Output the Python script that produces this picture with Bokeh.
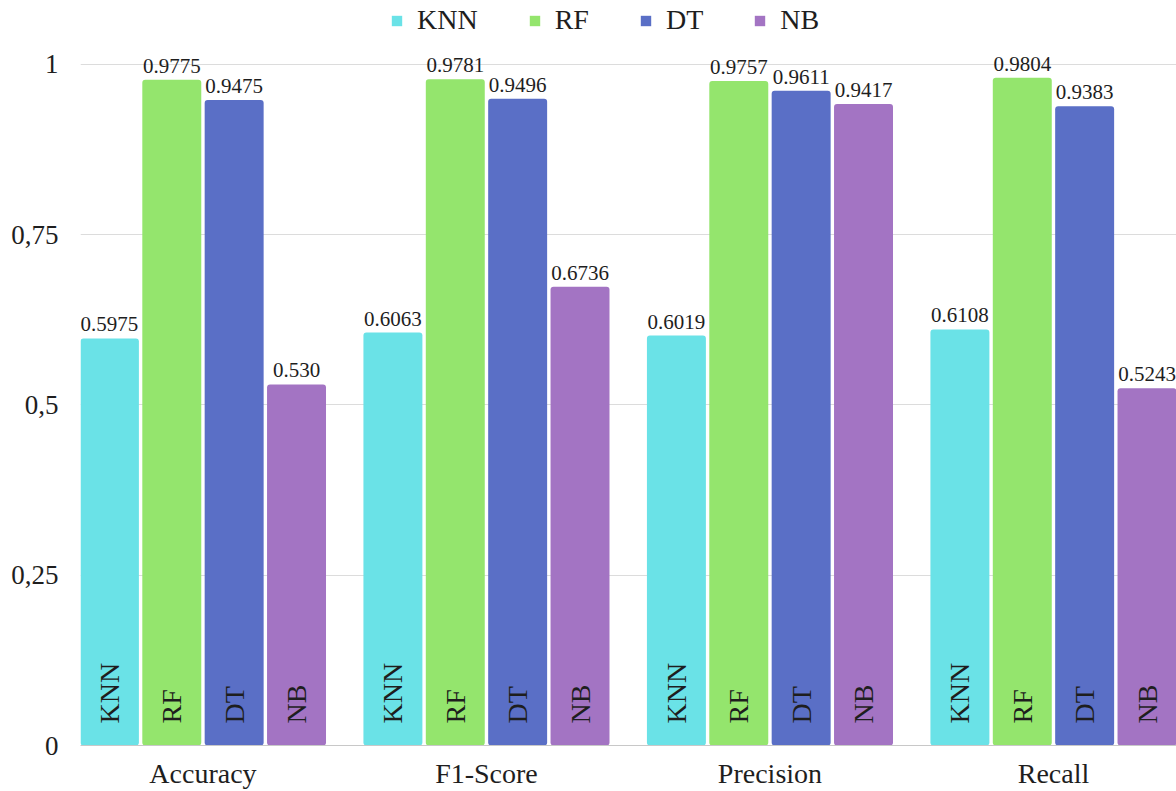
import numpy as np
from bokeh.plotting import figure
from bokeh.models import FixedTicker, Legend, LegendItem, Range1d
from bokeh.core.properties import value
from bokeh.embed import file_html
from bokeh.resources import INLINE

metrics = ["Accuracy", "F1-Score", "Precision", "Recall"]
models = ["KNN", "RF", "DT", "NB"]
knn = [0.5975, 0.6063, 0.6019, 0.6108]
rf = [0.9775, 0.9781, 0.9757, 0.9804]
dt = [0.9475, 0.9496, 0.9611, 0.9383]
nb = [0.530, 0.6736, 0.9417, 0.5243]
knn_labels = ["0.5975", "0.6063", "0.6019", "0.6108"]
rf_labels = ["0.9775", "0.9781", "0.9757", "0.9804"]
dt_labels = ["0.9475", "0.9496", "0.9611", "0.9383"]
nb_labels = ["0.530", "0.6736", "0.9417", "0.5243"]
y_ticks = [0, 0.25, 0.5, 0.75, 1]
y_tick_labels = ["0", "0,25", "0,5", "0,75", "1"]
colors = ["#6ae2e7", "#94e56d", "#5a6fc6", "#a374c3"]

series = [knn, rf, dt, nb]
series_labels = [knn_labels, rf_labels, dt_labels, nb_labels]

FONT_NAME = "'Liberation Serif', 'Times New Roman', serif"
FONT = value(FONT_NAME)
TXT = "#1e1e1e"

p = figure(width=1176, height=791,
           x_range=Range1d(-0.432, 3.434), y_range=Range1d(0, 1.0937),
           output_backend="svg", toolbar_location=None,
           min_border_left=80, min_border_right=0, min_border_top=0, min_border_bottom=44)
p.outline_line_color = None

base = np.arange(len(metrics))
step = 0.22
items = []
for j, (name, vals, labs, col) in enumerate(zip(models, series, series_labels, colors)):
    xs = base + (j - 1.5) * step
    r = p.vbar(x=xs, width=0.208, top=vals, bottom=0, fill_color=col, line_color=None,
               border_radius=3)
    items.append(LegendItem(label=name, renderers=[r]))
    p.text(x=xs, y=vals, text=labs, text_align="center", text_baseline="bottom",
           y_offset=-7, text_font=FONT, text_font_size="21px", text_color=TXT)
    p.text(x=xs, y=[0] * len(xs), text=[name] * len(xs), angle=np.pi / 2,
           text_align="left", text_baseline="middle", y_offset=-22,
           text_font=FONT, text_font_size="28px", text_color=TXT)

legend = Legend(items=items, orientation="horizontal", location=(310, 709),
                border_line_color=None, background_fill_alpha=0,
                label_text_font=FONT_NAME, label_text_font_size="28px", label_text_color=TXT,
                glyph_width=13, glyph_height=13, label_standoff=14, spacing=50,
                padding=0, margin=0)
p.add_layout(legend)

p.yaxis.ticker = FixedTicker(ticks=y_ticks)
p.yaxis.major_label_overrides = {t: l for t, l in zip(y_ticks, y_tick_labels)}
p.yaxis.axis_line_color = None
p.yaxis.major_tick_line_color = None
p.yaxis.minor_tick_line_color = None
p.yaxis.major_tick_out = 0
p.yaxis.major_tick_in = 0
p.yaxis.major_label_standoff = 22
p.yaxis.major_label_text_font = FONT_NAME
p.yaxis.major_label_text_font_size = "27px"
p.yaxis.major_label_text_color = TXT

p.xaxis.ticker = FixedTicker(ticks=[int(i) for i in base])
p.xaxis.major_label_overrides = {int(i): m for i, m in zip(base, metrics)}
p.xaxis.axis_line_color = "#c8c8c8"
p.xaxis.major_tick_line_color = None
p.xaxis.minor_tick_line_color = None
p.xaxis.major_tick_out = 0
p.xaxis.major_tick_in = 0
p.xaxis.major_label_standoff = 12
p.xaxis.major_label_text_font = FONT_NAME
p.xaxis.major_label_text_font_size = "28px"
p.xaxis.major_label_text_color = TXT

p.xgrid.grid_line_color = None
p.ygrid.grid_line_color = "#dcdcdc"

open("out.html", "w").write(file_html(p, INLINE))
